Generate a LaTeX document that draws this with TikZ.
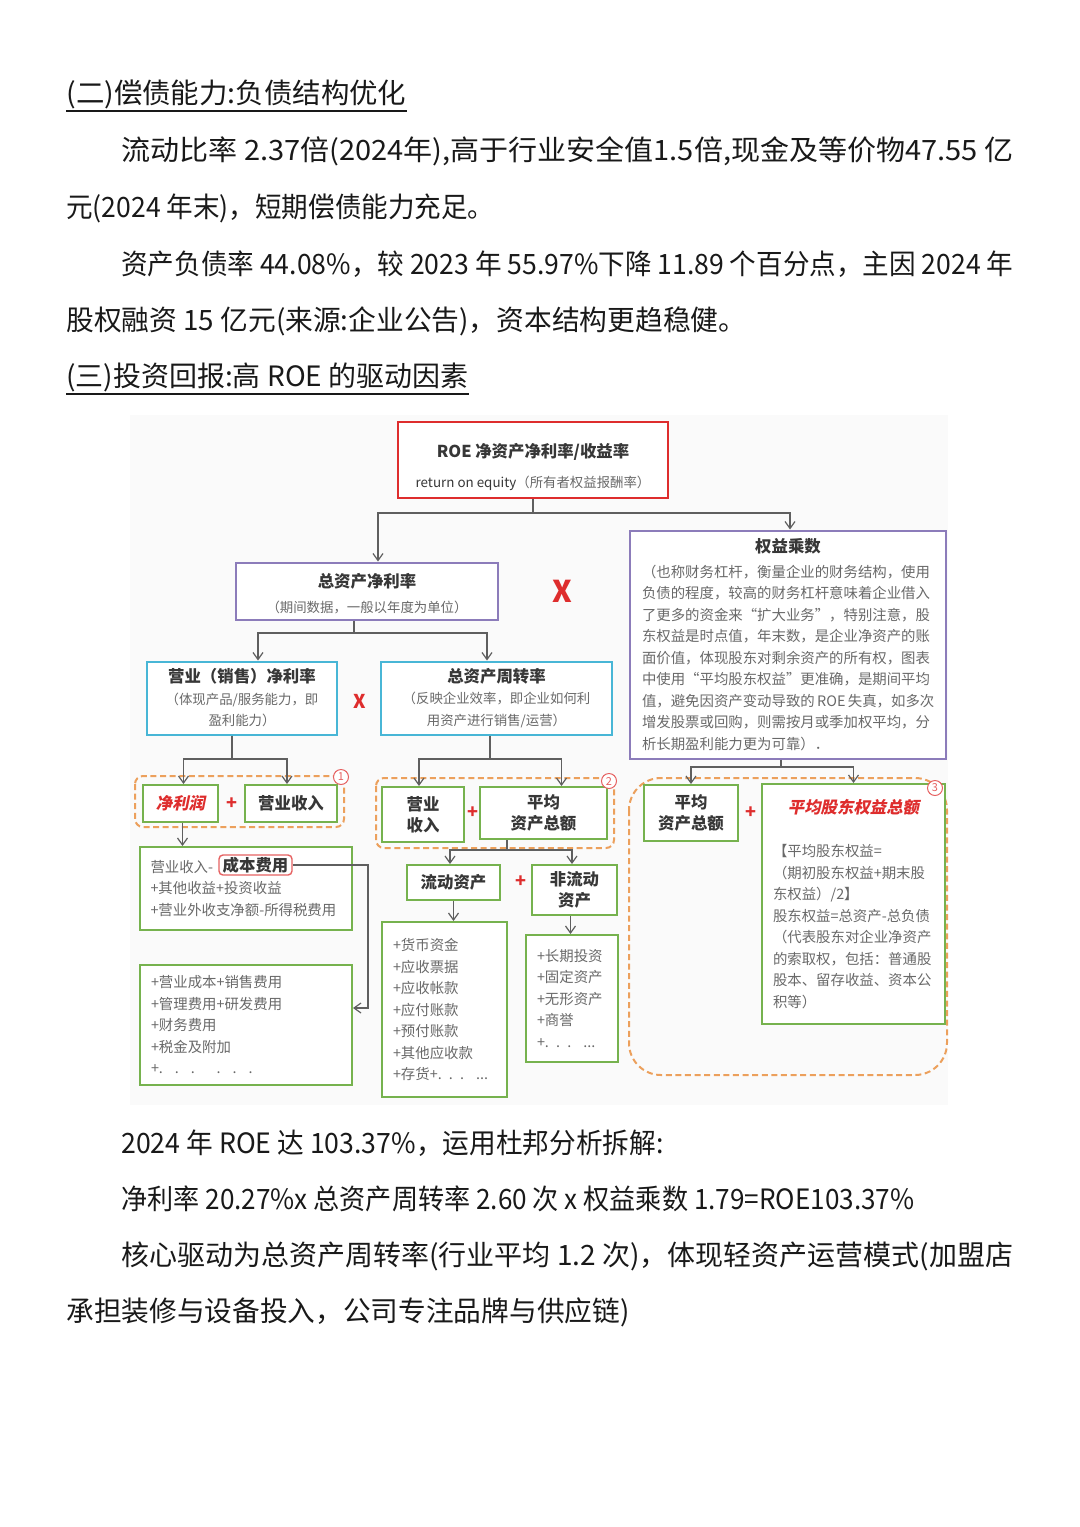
\documentclass[tikz,border=0pt]{standalone}
\usepackage{fontspec}
\setmainfont{Noto Sans CJK SC}
\newfontfamily\slantfont{Noto Sans CJK SC}[FakeSlant=0.2]
\usepackage{graphicx}
\usetikzlibrary{positioning,arrows.meta}

\definecolor{roered}{RGB}{222,45,45}
\definecolor{boxpurple}{RGB}{140,124,186}
\definecolor{boxcyan}{RGB}{72,182,214}
\definecolor{boxgreen}{RGB}{118,178,78}
\definecolor{grporange}{RGB}{236,160,92}
\definecolor{linegray}{RGB}{95,95,95}
\definecolor{txtdark}{RGB}{55,55,55}
\definecolor{txtgray}{RGB}{105,105,105}
\definecolor{bodyblack}{RGB}{25,25,25}

\newcommand\bodyfont{\fontsize{14}{17}\selectfont}
\newcommand\dtitle{\fontsize{8.2}{10.5}\selectfont\bfseries}
\newcommand\dsub{\fontsize{6.7}{10.5}\selectfont}
\newcommand\dbody{\fontsize{7.2}{10.75}\selectfont}
\newcommand\fitline[2]{\resizebox{#1}{\height}{#2}}

\tikzset{
  para/.style={anchor=west,inner sep=0pt,text=bodyblack,font=\bodyfont},
  uline/.style={draw=bodyblack,line width=0.7pt},
  roebox/.style={draw=roered,line width=1.3pt,fill=white,align=center,inner sep=0pt,font=\dbody},
  purplebox/.style={draw=boxpurple,line width=1pt,fill=white,align=center,inner sep=0pt,font=\dbody,text=txtdark},
  cyanbox/.style={draw=boxcyan,line width=1pt,fill=white,align=center,inner sep=0pt,font=\dbody,text=txtdark},
  greenbox/.style={draw=boxgreen,line width=1pt,fill=white,align=center,inner sep=0pt,font=\dtitle,text=txtdark},
  listbox/.style={draw=boxgreen,line width=1pt,fill=white,align=left,inner ysep=0pt,inner xsep=5.5pt,font=\dbody,text=txtgray},
  costbox/.style={draw=roered!75,line width=0.7pt,rounded corners=2pt,fill=white,inner sep=0pt,font=\dtitle,text=txtdark},
  grp/.style={draw=grporange,line width=1pt,dash pattern=on 3pt off 1.8pt,rounded corners=4pt},
  badge/.style={circle,draw=roered!75,fill=white,line width=0.5pt,inner sep=0pt,minimum size=7.5pt,text=roered!75,font=\fontsize{5.5}{6}\selectfont},
  plus/.style={inner sep=0pt,text=roered,font=\fontsize{9}{9}\selectfont\bfseries},
  bigx/.style={inner sep=0pt,text=roered,font=\fontsize{15}{15}\selectfont\bfseries},
  smallx/.style={inner sep=0pt,text=roered,font=\fontsize{9.5}{9.5}\selectfont\bfseries},
  link/.style={draw=linegray,line width=0.6pt},
  arr/.style={link,-{Straight Barb[length=3.5pt,width=5pt]}},
}

\begin{document}
\begin{tikzpicture}[x=0.5pt,y=-0.5pt]
  \useasboundingbox[fill=white] (0,0) rectangle (1080,1527);

  % text above the chart
  \node[para] (h1) at (66,94) {\fitline{170pt}{(二)偿债能力:负债结构优化}};
  \draw[uline] ([yshift=-1pt]h1.south west) -- ([yshift=-1pt]h1.south east);
  \node[para] (l1) at (121,151) {\fitline{446pt}{流动比率 2.37倍(2024年),高于行业安全值1.5倍,现金及等价物47.55 亿}};
  \node[para] (l2) at (66,208) {\fitline{214pt}{元(2024 年末)，短期偿债能力充足。}};
  \node[para] (l3) at (121,264) {\fitline{446pt}{资产负债率 44.08\%，较 2023 年 55.97\%下降 11.89 个百分点，主因 2024 年}};
  \node[para] (l4) at (66,321) {\fitline{340pt}{股权融资 15 亿元(来源:企业公告)，资本结构更趋稳健。}};
  \node[para] (h2) at (66,377) {\fitline{201pt}{(三)投资回报:高 ROE 的驱动因素}};
  \draw[uline] ([yshift=-1pt]h2.south west) -- ([yshift=-1pt]h2.south east);

  % chart
  \fill[black!2] (130,415) rectangle (948,1105);

  \node[roebox,minimum width=135pt,minimum height=38pt] (roe) at (533,460) {\rule{0pt}{14pt}{\dtitle\color{txtdark}ROE 净资产净利率/收益率}\\[4pt]{\dsub\color{txtdark}return on equity\color{txtgray}（所有者权益报酬率）}};
  \node[purplebox,minimum width=131pt,minimum height=28.5pt] (zzcjll) at (367,591) {\rule{0pt}{10pt}{\dtitle 总资产净利率}\\[1.7pt]{\dsub\color{txtgray}（期间数据，一般以年度为单位）}};
  \node[purplebox,minimum width=158pt,minimum height=114pt,align=left,inner ysep=2pt,text width=146pt,text=txtgray] (qycs) at (788,644.5) {\makebox[\linewidth]{\dtitle\color{txtdark}权益乘数}\\[1.4pt]
    （也称财务杠杆，衡量企业的财务结构，使用\\
    负债的程度，较高的财务杠杆意味着企业借入\\
    了更多的资金来“扩大业务”，特别注意，股\\
    东权益是时点值，年末数，是企业净资产的账\\
    面价值，体现股东对剩余资产的所有权，图表\\
    中使用“平均股东权益”更准确，是期间平均\\
    值，避免因资产变动导致的\,ROE\,失真，如多次\\
    增发股票或回购，则需按月或季加权平均，分\\
    析长期盈利能力更为可靠）．};
  \node[bigx] (x1) at (562,591) {X};

  \node[cyanbox,minimum width=95pt,minimum height=36.5pt] (yyjll) at (242,698) {{\dtitle 营业（销售）净利率}\\{\dsub\color{txtgray}（体现产品/服务能力，即}\\{\dsub\color{txtgray}盈利能力）}};
  \node[smallx] (x2) at (360,701) {X};
  \node[cyanbox,minimum width=115.5pt,minimum height=36.5pt] (zzczzl) at (496.5,698) {{\dtitle 总资产周转率}\\{\dsub\color{txtgray}（反映企业效率，即企业如何利}\\{\dsub\color{txtgray}用资产进行销售/运营）}};

  % group 1
  \draw[grp] (135,776) rectangle (344,827);
  \node[greenbox,minimum width=37.5pt,minimum height=18.5pt] (jlr) at (180.5,803.5) {\slantfont\bfseries\color{roered}净利润};
  \node[plus] (p1) at (232,804) {+};
  \node[greenbox,minimum width=46pt,minimum height=18.5pt] (yysr1) at (291,803.5) {营业收入};
  \node[badge] (n1) at (341,777) {1};
  \node[listbox,minimum width=106pt,minimum height=41.5pt,text width=95pt] (lrbox) at (245.5,888.5) {营业收入-\\+其他收益+投资收益\\+营业外收支净额-所得税费用};
  \node[costbox,minimum width=36.5pt,minimum height=10pt] (cbfy) at (255.5,865) {成本费用};
  \node[listbox,minimum width=106pt,minimum height=60pt,text width=95pt] (cbbox) at (246,1025) {+营业成本+销售费用\\+管理费用+研发费用\\+财务费用\\+税金及附加\\+. \ . \ . \quad . \ . \ .};

  % group 2
  \draw[grp] (376,778) rectangle (614,848);
  \node[greenbox,minimum width=41pt,minimum height=27.5pt] (yysr2) at (423,814.5) {营业\\收入};
  \node[plus] (p2) at (473,813) {+};
  \node[greenbox,minimum width=63.5pt,minimum height=26pt] (pjzc2) at (543.5,813) {平均\\资产总额};
  \node[badge] (n2) at (609,781) {2};
  \node[greenbox,minimum width=46.5pt,minimum height=17.5pt] (ldzc) at (453.5,882.5) {流动资产};
  \node[plus] (p3) at (521,882) {+};
  \node[greenbox,minimum width=42.5pt,minimum height=25pt] (fldzc) at (574.5,890) {非流动\\资产};
  \node[listbox,minimum width=62.5pt,minimum height=87.5pt,text width=51.5pt] (ldlist) at (444.5,1009.5) {+货币资金\\+应收票据\\+应收帐款\\+应付账款\\+预付账款\\+其他应收款\\+存货+. . . \ ...};
  \node[listbox,minimum width=46pt,minimum height=63.5pt,text width=35pt] (fldlist) at (572,998.5) {+长期投资\\+固定资产\\+无形资产\\+商誉\\+. . . \ ...};

  % group 3
  \draw[grp,rounded corners=16pt] (629,778) rectangle (947,1075);
  \node[greenbox,minimum width=47pt,minimum height=28pt] (pjzc3) at (691,813) {平均\\资产总额};
  \node[plus] (p4) at (751,813) {+};
  \node[listbox,minimum width=91.5pt,minimum height=120pt,text width=80.5pt] (pjgd) at (853.5,904) {\makebox[\linewidth]{\fontsize{8.2}{10.5}\selectfont\slantfont\bfseries\color{roered}平均股东权益总额}\\[11pt]
    【平均股东权益=\\
    （期初股东权益+期末股\\
    东权益）/2】\\
    股东权益=总资产-总负债\\
    （代表股东对企业净资产\\
    的索取权，包括：普通股\\
    股本、留存收益、资本公\\
    积等）};
  \node[badge] (n3) at (935,788) {3};

  % connectors
  \coordinate (roej) at (533,513);
  \draw[link] (roe.south) -- (roej);
  \draw[arr] (roej) -| ([xshift=5.5pt]zzcjll.north);
  \draw[arr] (roej) -| ([xshift=1pt]qycs.north);

  \coordinate (zj) at (354,633);
  \draw[link] (zzcjll.south -| zj) -- (zj);
  \draw[arr] (zj) -| ([xshift=8pt]yyjll.north);
  \draw[arr] (zj) -| ([xshift=-4.75pt]zzczzl.north);

  \coordinate (yj) at (232,759);
  \draw[link] (yyjll.south -| yj) -- (yj);
  \draw[arr] (yj) -| ([xshift=1.5pt]jlr.north);
  \draw[arr] (yj) -| ([xshift=-2pt]yysr1.north);

  \coordinate (zzj) at (490,759);
  \draw[link] (zzczzl.south -| zzj) -- (zzj);
  \draw[arr] (zzj) -| ([xshift=-2pt]yysr2.north);
  \draw[arr] (zzj) -| ([xshift=9pt]pjzc2.north);

  \coordinate (qj) at (781,767);
  \draw[link] (qycs.south -| qj) -- (qj);
  \draw[arr] (qj) -| (pjzc3.north);
  \draw[arr] (qj) -| (pjgd.north);

  \coordinate (pj) at (507,850);
  \draw[link] (pjzc2.south -| pj) -- (pj);
  \draw[arr] (pj) -| ([xshift=-1.75pt]ldzc.north);
  \draw[arr] (pj) -| ([xshift=-1.25pt]fldzc.north);

  \draw[arr] ([xshift=1pt]jlr.south) -- ([xshift=1pt]jlr.south |- lrbox.north);
  \draw[arr] (ldzc.south) -- (ldzc.south |- ldlist.north);
  \draw[arr] ([xshift=-2pt]fldzc.south) -- ([xshift=-2pt]fldzc.south |- fldlist.north);

  \coordinate (cbturn) at (368,1008);
  \draw[arr] (cbfy.east) -| (cbturn) -- (cbturn -| cbbox.east);

  % text below the chart
  \node[para] (l5) at (121,1143) {\fitline{271pt}{2024 年 ROE 达 103.37\%，运用杜邦分析拆解:}};
  \node[para] (l6) at (121,1199) {\fitline{396.5pt}{净利率 20.27\%x 总资产周转率 2.60 次 x 权益乘数 1.79=ROE103.37\%}};
  \node[para] (l7) at (121,1256) {\fitline{446pt}{核心驱动为总资产周转率(行业平均 1.2 次)，体现轻资产运营模式(加盟店}};
  \node[para] (l8) at (66,1312) {\fitline{281.5pt}{承担装修与设备投入，公司专注品牌与供应链)}};
\end{tikzpicture}
\end{document}
